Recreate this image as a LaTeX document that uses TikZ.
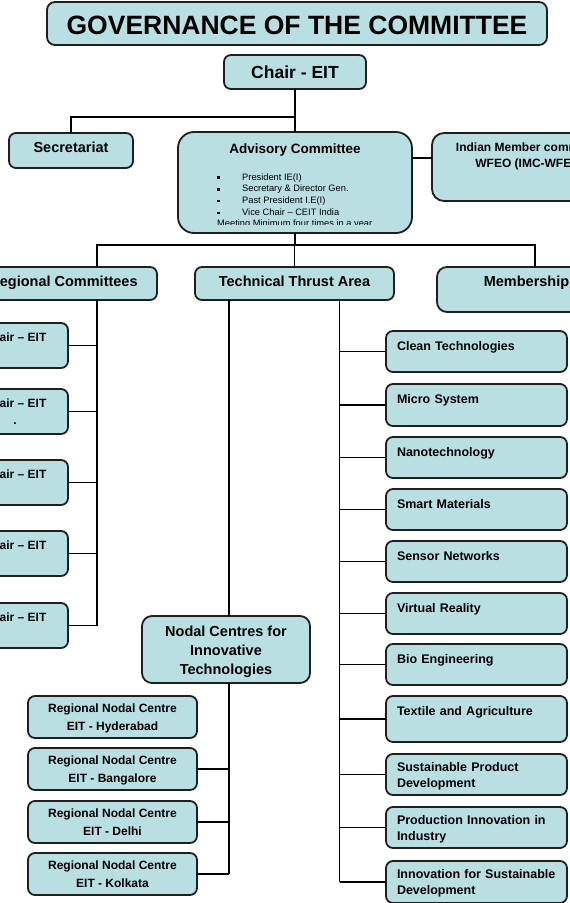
\documentclass[tikz,border=0pt]{standalone}
\usepackage{fontspec}
\setmainfont{Liberation Sans}
\usetikzlibrary{positioning}
\definecolor{boxblue}{RGB}{186,223,227}
\newcommand{\advitem}{\makebox[25pt][l]{\rule[1.2pt]{2.4pt}{2.4pt}}}

\begin{document}
\begin{tikzpicture}[x=1pt,y=-1pt,
 link/.style={line width=1.6pt},
 box/.style={draw=black!88,fill=boxblue,line width=1.8pt,rounded corners=7pt,
  inner sep=0pt,outer sep=0pt,anchor=north west},
 topic/.style={box,align=left,text width=159pt,inner xsep=11pt,
  font=\fontsize{12.5}{16}\selectfont\bfseries},
 chairbox/.style={box,minimum width=106pt,align=center,text height=18pt,text depth=27pt,
  font=\fontsize{12}{16}\selectfont\bfseries},
 centre/.style={box,minimum width=169pt,align=center,text height=34pt,text depth=8pt,
  font=\fontsize{12}{18}\selectfont\bfseries},
 head/.style={box,text height=19pt,font=\fontsize{14.5}{18}\selectfont\bfseries}]
 \useasboundingbox (0,0) rectangle (570,903);
 \clip (0,0) rectangle (570,903);

 \node[box,minimum width=500pt,text height=32pt,text depth=11pt,rounded corners=8pt,
  font=\fontsize{26.5}{30}\selectfont\bfseries] (title) at (47,2) {GOVERNANCE OF THE COMMITTEE};
 \node[box,minimum width=142pt,text height=23pt,text depth=11pt,
  font=\fontsize{17.5}{20}\selectfont\bfseries] (chair) at (224,55) {Chair - EIT};
 \node[head,minimum width=124pt,text depth=16pt] (secr) at (9,133) {Secretariat};
 \node[box,minimum width=234pt,text height=21pt,text depth=80pt,rounded corners=16pt,
  font=\fontsize{13.5}{16}\selectfont\bfseries] (advisory) at (178,132) {Advisory Committee};
 \begin{scope}
  \clip (178,132) rectangle (412,224);
  \node[anchor=base west,inner sep=0pt,align=left,font=\fontsize{9.3}{11.7}\selectfont]
   (members) at (217,226.8) {\advitem President IE(I)\\ \advitem Secretary \& Director Gen.\\
   \advitem Past President I.E(I)\\ \advitem Vice Chair – CEIT India\\
   Meeting Minimum four times in a year};
 \end{scope}
 \node[box,minimum width=196pt,align=center,text height=34pt,text depth=34pt,rounded corners=12pt,
  font=\fontsize{12}{16}\selectfont\bfseries] (imc) at (432,133) {Indian Member committee\\WFEO (IMC-WFEO)};

 \node[head,minimum width=187pt,text depth=14pt] (regional) at (-30,267) {Regional Committees};
 \node[head,minimum width=199pt,text depth=14pt] (thrust) at (195,267) {Technical Thrust Area};
 \node[head,minimum width=179pt,text depth=26pt,rounded corners=10pt] (member) at (437,267) {Membership};

 \foreach \ty [count=\i] in {323,389,460,531,603}
  \node[chairbox] (c\i) at (-38,\ty) {Chair – EIT};
 \node[anchor=base,inner sep=0pt,font=\fontsize{12}{16}\selectfont\bfseries] (dot) at (c2.center |- 0,424) {.};

 \node[box,minimum width=168pt,align=center,text height=58pt,text depth=9pt,rounded corners=10pt,
  font=\fontsize{14.5}{19}\selectfont\bfseries] (nodal) at (142,616) {Nodal Centres for\\Innovative\\Technologies};
 \foreach \ty/\city [count=\i] in {696/Hyderabad,748/Bangalore,801/Delhi,853/Kolkata}
  \node[centre] (n\i) at (28,\ty) {Regional Nodal Centre\\EIT - \city};

 \foreach \ty/\tht/\tdp/\ttext [count=\i] in {331/19/22/Clean Technologies,384/19/23/Micro System,
  437/19/22/Nanotechnology,489/19/22/Smart Materials,541/19/22/Sensor Networks,
  593/19/22/Virtual Reality,644/19/22/Bio Engineering,696/19/27/Textile and Agriculture,
  754/17/24/{Sustainable Product\\Development},807/17/24/{Production Innovation in\\Industry},
  861/17/25/{Innovation for Sustainable\\Development}}
  \node[topic,text height=\tht pt,text depth=\tdp pt] (t\i) at (386,\ty) {\ttext};

 \coordinate (split) at (295,117);
 \coordinate (imcjoin) at (420,158);
 \coordinate (busL) at (97,245);
 \coordinate (busR) at (535,245);
 \coordinate (spine) at (339.5,300);
 \coordinate (nspine) at (229,300);
 \draw[link] (chair.south) -- (advisory.north);
 \draw[link] (secr.north) |- (split);
 \draw[link] (advisory.east |- imcjoin) -- (imc.west |- imcjoin);
 \draw[link] (advisory.south) -- (advisory.south |- busL);
 \draw[link] (busL |- regional.north) -- (busL) -- (busR) -- (busR |- member.north);
 \draw[link] (thrust.north) -- (thrust.north |- busL);
 \draw[link] (busL |- regional.south) -- (busL |- c5.east);
 \foreach \i in {1,...,5} \draw[link] (c\i.east) -- (c\i.east -| busL);
 \draw[link] (spine) -- (spine |- t11.west);
 \foreach \i in {1,...,11} \draw[link] (t\i.west) -- (t\i.west -| spine);
 \draw[link] (nspine) -- (nspine |- nodal.north);
 \draw[link] (nspine |- nodal.south) -- (nspine |- n4.east);
 \foreach \i in {2,3,4} \draw[link] (n\i.east) -- (n\i.east -| nspine);
\end{tikzpicture}
\end{document}
